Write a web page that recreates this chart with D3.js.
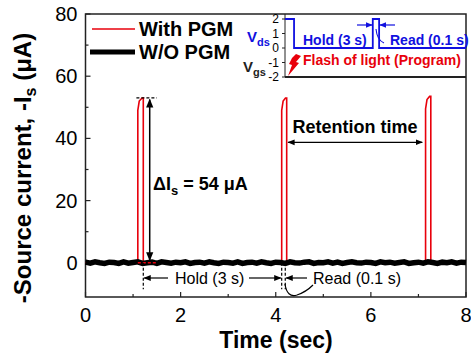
<!DOCTYPE html>
<html>
<head>
<meta charset="utf-8">
<script src="https://cdn.jsdelivr.net/npm/d3@7"></script>
<style>
  body { margin: 0; background: #fff; }
  svg { font-family: Arial, "Liberation Sans", sans-serif; }
</style>
</head>
<body>
<div id="chart"></div>
<script>
// ---- data ----
const xTicks = [0, 2, 4, 6, 8];
const xMinor = [1, 3, 5, 7];
const yTicks = [0, 20, 40, 60, 80];
const yMinor = [10, 30, 50, 70];

// W/O PGM: noisy trace around zero (every 0.1 s)
const woTime = [0,0.1,0.2,0.3,0.4,0.5,0.6,0.7,0.8,0.9,1.0,1.1,1.2,1.3,1.4,1.5,1.6,1.7,1.8,1.9,
                2.0,2.1,2.2,2.3,2.4,2.5,2.6,2.7,2.8,2.9,3.0,3.1,3.2,3.3,3.4,3.5,3.6,3.7,3.8,3.9,
                4.0,4.1,4.2,4.3,4.4,4.5,4.6,4.7,4.8,4.9,5.0,5.1,5.2,5.3,5.4,5.5,5.6,5.7,5.8,5.9,
                6.0,6.1,6.2,6.3,6.4,6.5,6.6,6.7,6.8,6.9,7.0,7.1,7.2,7.3,7.4,7.5,7.6,7.7,7.8,7.9,8.0];
const woCurrent = [0.2,-0.1,0.3,0.0,-0.2,0.2,0.1,-0.2,0.3,-0.1,0.1,0.3,-0.2,0.0,0.2,-0.2,0.3,0.1,-0.1,0.2,
                   0.0,0.3,-0.2,0.1,0.2,-0.1,0.3,0.0,-0.2,0.2,0.1,-0.1,0.3,-0.2,0.1,0.2,-0.1,0.3,0.0,-0.2,
                   0.2,0.1,-0.2,0.3,0.0,-0.1,0.2,0.3,-0.2,0.1,0.0,0.3,-0.1,0.2,-0.2,0.1,0.3,0.0,-0.1,0.2,
                   0.1,-0.2,0.3,0.0,0.2,-0.1,0.1,0.3,-0.2,0.0,0.2,-0.1,0.3,0.1,-0.2,0.2,0.0,0.3,-0.1,0.2,0.1];

// With PGM: three programmed pulses
const pgmTime = [0,1.10,1.10,1.13,1.19,1.215,1.215,4.125,4.125,4.155,4.205,4.23,4.23,
                 7.15,7.15,7.18,7.235,7.26,7.26,8];
const pgmCurrent = [0,0,49,52,53,53,0,0,49,52,53,53,0,
                    0,49.5,52.5,53.5,53.5,0,0];

// inset: Vds / Vgs schematic
const insetTicks = [2, 1, 0, -1, -2];
const insetTickLabels = ["2", "1", "0", "-1", "-2"];
const vdsStep = [0, 0.5, 0.5, 4.85, 4.85, 5.2, 5.2, 10];
const vdsLevel = [2, 2, 0, 0, 2, 2, 0, 0];
const vgsStep = [0, 10];
const vgsLevel = [-2, -2];

// ---- layout ----
const W = 471, H = 358;
const svg = d3.select("#chart").append("svg").attr("width", W).attr("height", H);

const x = d3.scaleLinear().domain([0, 8]).range([85.5, 466]);
const y = d3.scaleLinear().domain([-11, 80]).range([297, 14]);

// frame
svg.append("rect").attr("x", x(0)).attr("y", y(80))
  .attr("width", x(8) - x(0)).attr("height", y(-11) - y(80))
  .attr("fill", "none").attr("stroke", "#222").attr("stroke-width", 1.5);

// ticks (inward)
const tk = svg.append("g").attr("stroke", "#222").attr("stroke-width", 1.2);
xTicks.forEach(t => tk.append("line").attr("x1", x(t)).attr("x2", x(t)).attr("y1", y(-11)).attr("y2", y(-11) - 5));
xMinor.forEach(t => tk.append("line").attr("x1", x(t)).attr("x2", x(t)).attr("y1", y(-11)).attr("y2", y(-11) - 3));
yTicks.forEach(t => tk.append("line").attr("x1", x(0)).attr("x2", x(0) + 5).attr("y1", y(t)).attr("y2", y(t)));
yMinor.forEach(t => tk.append("line").attr("x1", x(0)).attr("x2", x(0) + 3).attr("y1", y(t)).attr("y2", y(t)));

// tick labels
svg.append("g").selectAll("text").data(xTicks).join("text")
  .attr("x", d => x(d)).attr("y", 322).attr("text-anchor", "middle")
  .attr("font-size", 20).text(d => d);
svg.append("g").selectAll("text").data(yTicks).join("text")
  .attr("x", x(0) - 8).attr("y", d => y(d) + 7).attr("text-anchor", "end")
  .attr("font-size", 20).text(d => d);

// axis titles
svg.append("text").attr("x", 276).attr("y", 348).attr("text-anchor", "middle")
  .attr("font-size", 23).attr("font-weight", "bold").text("Time (sec)");
const yt = svg.append("text").attr("transform", "translate(31,168) rotate(-90)")
  .attr("text-anchor", "middle").attr("font-size", 24).attr("font-weight", "bold");
yt.append("tspan").text("-Source current, -I");
yt.append("tspan").attr("font-size", 16).attr("dy", 5).text("s");
yt.append("tspan").attr("dy", -5).text(" (\u03bcA)");

// data lines
const line = d3.line().x(d => x(d[0])).y(d => y(d[1]));
svg.append("path").datum(pgmTime.map((t, i) => [t, pgmCurrent[i]]))
  .attr("d", line).attr("fill", "none").attr("stroke", "#e8000b").attr("stroke-width", 1.6);
svg.append("path").datum(woTime.map((t, i) => [t, woCurrent[i]]))
  .attr("d", line).attr("fill", "none").attr("stroke", "#000").attr("stroke-width", 5.5);

// legend
svg.append("line").attr("x1", 92).attr("x2", 135).attr("y1", 29).attr("y2", 29)
  .attr("stroke", "#e8000b").attr("stroke-width", 1.5);
svg.append("text").attr("x", 139).attr("y", 36).attr("font-size", 20).attr("font-weight", "bold").text("With PGM");
svg.append("line").attr("x1", 90).attr("x2", 135).attr("y1", 52).attr("y2", 52)
  .attr("stroke", "#000").attr("stroke-width", 5);
svg.append("text").attr("x", 139).attr("y", 59).attr("font-size", 20).attr("font-weight", "bold").text("W/O PGM");

// arrow markers
const defs = svg.append("defs");
function marker(id, color) {
  defs.append("marker").attr("id", id).attr("viewBox", "0 0 10 10").attr("refX", 9).attr("refY", 5)
    .attr("markerWidth", 6).attr("markerHeight", 6).attr("orient", "auto-start-reverse")
    .append("path").attr("d", "M0,1 L10,5 L0,9 z").attr("fill", color);
}
marker("arr", "#000");
marker("arrb", "#1010e0");

// ΔIs annotation
svg.append("line").attr("x1", x(1.07)).attr("x2", x(1.5)).attr("y1", y(53)).attr("y2", y(53))
  .attr("stroke", "#000").attr("stroke-width", 1.2).attr("stroke-dasharray", "3,2");
svg.append("line").attr("x1", x(1.1)).attr("x2", x(1.5)).attr("y1", y(0)).attr("y2", y(0))
  .attr("stroke", "#e8000b").attr("stroke-width", 1.5).attr("stroke-dasharray", "3,2");
svg.append("line").attr("x1", x(1.35)).attr("x2", x(1.35)).attr("y1", y(52.5)).attr("y2", y(0.8))
  .attr("stroke", "#000").attr("stroke-width", 1.5)
  .attr("marker-start", "url(#arr)").attr("marker-end", "url(#arr)");
const dl = svg.append("text").attr("x", 153).attr("y", 190).attr("font-size", 18).attr("font-weight", "bold");
dl.append("tspan").text("\u0394I");
dl.append("tspan").attr("font-size", 13).attr("dy", 5).text("s");
dl.append("tspan").attr("dy", -5).text(" = 54 \u03bcA");

// Retention time
svg.append("text").attr("x", 355).attr("y", 133).attr("text-anchor", "middle")
  .attr("font-size", 18).attr("font-weight", "bold").text("Retention time");
svg.append("line").attr("x1", x(4.26)).attr("x2", x(7.08)).attr("y1", 142.3).attr("y2", 142.3)
  .attr("stroke", "#000").attr("stroke-width", 1.2)
  .attr("marker-start", "url(#arr)").attr("marker-end", "url(#arr)");

// Hold / Read under the trace
const an = svg.append("g").attr("stroke", "#000").attr("stroke-width", 1.2).attr("fill", "none");
[1.215, 4.125, 4.2].forEach(t => an.append("line").attr("x1", x(t)).attr("x2", x(t))
  .attr("y1", y(0)).attr("y2", y(-8.5)).attr("stroke-dasharray", "3,2"));
an.append("line").attr("x1", 168).attr("x2", x(1.215) + 1).attr("y1", 278).attr("y2", 278).attr("marker-end", "url(#arr)");
an.append("line").attr("x1", 249).attr("x2", x(4.125) - 1).attr("y1", 278).attr("y2", 278).attr("marker-end", "url(#arr)");
an.append("line").attr("x1", 307).attr("x2", x(4.2) + 1).attr("y1", 278).attr("y2", 278).attr("marker-end", "url(#arr)");
an.append("path").attr("d", "M285,284 Q287,298 297,295 Q306,292 313,285");
svg.append("text").attr("x", 175).attr("y", 284).attr("font-size", 16).text("Hold (3 s)");
svg.append("text").attr("x", 313).attr("y", 284).attr("font-size", 16).text("Read (0.1 s)");

// ---- inset ----
const ix = d3.scaleLinear().domain([0, 10]).range([285, 466]);
const iy = d3.scaleLinear().domain([-2, 2]).range([77, 19]);
const ins = svg.append("g");
ins.append("line").attr("x1", 285).attr("x2", 285).attr("y1", 14).attr("y2", 77).attr("stroke", "#222").attr("stroke-width", 1);
insetTicks.forEach(t => ins.append("line").attr("x1", 285).attr("x2", 282).attr("y1", iy(t)).attr("y2", iy(t)).attr("stroke", "#222"));
ins.selectAll("text.it").data(insetTicks).join("text").attr("class", "it")
  .attr("x", 279).attr("y", d => iy(d) + 4).attr("text-anchor", "end").attr("font-size", 12)
  .text((d, i) => insetTickLabels[i]);
const iline = d3.line().x(d => ix(d[0])).y(d => iy(d[1]));
ins.append("path").datum(vdsStep.map((t, i) => [t, vdsLevel[i]])).attr("d", iline)
  .attr("fill", "none").attr("stroke", "#1010e0").attr("stroke-width", 1.8);
ins.append("path").datum(vgsStep.map((t, i) => [t, vgsLevel[i]])).attr("d", iline)
  .attr("fill", "none").attr("stroke", "#222").attr("stroke-width", 1.8);
const vds = ins.append("text").attr("x", 247).attr("y", 42).attr("font-size", 15).attr("font-weight", "bold").attr("fill", "#1010e0");
vds.append("tspan").text("V");
vds.append("tspan").attr("font-size", 11).attr("dy", 4).text("ds");
const vgs = ins.append("text").attr("x", 243).attr("y", 72).attr("font-size", 15).attr("font-weight", "bold").attr("fill", "#222");
vgs.append("tspan").text("V");
vgs.append("tspan").attr("font-size", 11).attr("dy", 4).text("gs");
ins.append("text").attr("x", 303).attr("y", 45).attr("font-size", 14).attr("font-weight", "bold").attr("fill", "#1010e0").text("Hold (3 s)");
ins.append("text").attr("x", 390).attr("y", 45).attr("font-size", 14).attr("font-weight", "bold").attr("fill", "#1010e0").text("Read (0.1 s)");
ins.append("line").attr("x1", 357).attr("x2", 372).attr("y1", 25).attr("y2", 25).attr("stroke", "#1010e0").attr("stroke-width", 1.2).attr("marker-end", "url(#arrb)");
ins.append("line").attr("x1", 395).attr("x2", 380).attr("y1", 25).attr("y2", 25).attr("stroke", "#1010e0").attr("stroke-width", 1.2).attr("marker-end", "url(#arrb)");
ins.append("path").attr("d", "M376,29 Q377,40 384,43").attr("fill", "none").attr("stroke", "#1010e0").attr("stroke-width", 1.1);
ins.append("text").attr("x", 303).attr("y", 65).attr("font-size", 14).attr("font-weight", "bold").attr("fill", "#e8000b").text("Flash of light (Program)");
// lightning bolt
ins.append("path").attr("d", "M296,54 L301,56 L296,62 L299,63 L288,76 L292,65 L289,64 L292,58 z").attr("fill", "#e8000b");
</script>
</body>
</html>
